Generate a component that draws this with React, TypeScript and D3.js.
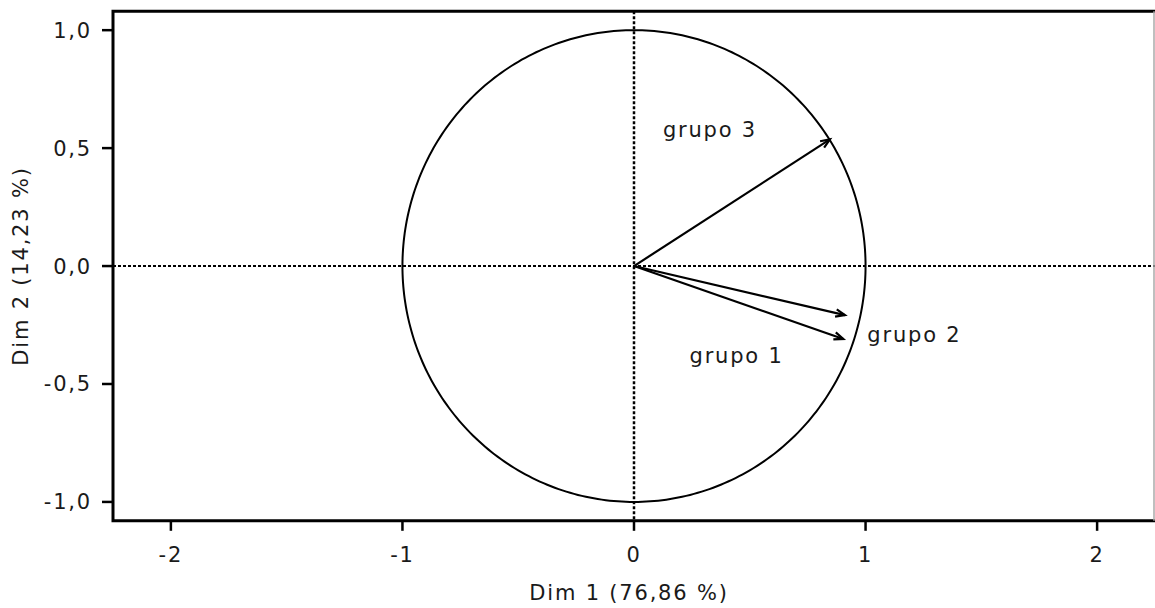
import * as React from "react";
import { useRef, useEffect } from "react";
import * as d3 from "d3";

// variable coordinates on the first two dimensions
const groups = ["grupo 1", "grupo 2", "grupo 3"];
const dim1 = [0.904, 0.911, 0.846];
const dim2 = [-0.309, -0.208, 0.537];
// label anchors (data units)
const labelX = [0.443, 1.211, 0.328];
const labelY = [-0.411, -0.322, 0.547];

const xTicks = [-2, -1, 0, 1, 2];
const yTicks = [1, 0.5, 0, -0.5, -1];
const xTitle = "Dim 1 (76,86 %)";
const yTitle = "Dim 2 (14,23 %)";

const W = 1155;
const H = 608;

export default function App() {
  const svgRef = useRef<SVGSVGElement>(null);

  useEffect(() => {
    const svg = d3.select(svgRef.current).attr("width", W).attr("height", H);
    svg.selectAll("*").remove();

    const left = 113;
    const right = 1155;
    const top = 11.3;
    const bottom = 520.8;

    const x = d3.scaleLinear().domain([-2.25, 2.25]).range([left, right]);
    const y = d3.scaleLinear().domain([-1.08, 1.08]).range([bottom, top]);

    const font = "'DejaVu Sans', Verdana, sans-serif";
    const txt = "#1a1a1a";
    const fs = 21;
    const ls = 1.8;

    svg.append("rect").attr("width", W).attr("height", H).attr("fill", "#fff");

    // dotted reference lines
    svg
      .append("line")
      .attr("x1", x(0))
      .attr("x2", x(0))
      .attr("y1", top)
      .attr("y2", bottom)
      .attr("stroke", "#000")
      .attr("stroke-width", 2.5)
      .attr("stroke-dasharray", "3,2");
    svg
      .append("line")
      .attr("x1", left)
      .attr("x2", right)
      .attr("y1", y(0))
      .attr("y2", y(0))
      .attr("stroke", "#000")
      .attr("stroke-width", 2)
      .attr("stroke-dasharray", "3,2");

    // unit circle
    const circ = d3.range(0, 361).map((a) => [
      x(Math.cos((a * Math.PI) / 180)),
      y(Math.sin((a * Math.PI) / 180)),
    ]) as [number, number][];
    svg
      .append("path")
      .attr("d", d3.line()(circ))
      .attr("fill", "none")
      .attr("stroke", "#000")
      .attr("stroke-width", 2);

    // arrows
    const head = 10;
    const ang = (22 * Math.PI) / 180;
    groups.forEach((g, i) => {
      const x0 = x(0);
      const y0 = y(0);
      const x1 = x(dim1[i]);
      const y1 = y(dim2[i]);
      svg
        .append("line")
        .attr("x1", x0)
        .attr("y1", y0)
        .attr("x2", x1)
        .attr("y2", y1)
        .attr("stroke", "#000")
        .attr("stroke-width", 2.2);
      const t = Math.atan2(y1 - y0, x1 - x0);
      const pts: [number, number][] = [
        [x1 - head * Math.cos(t - ang), y1 - head * Math.sin(t - ang)],
        [x1, y1],
        [x1 - head * Math.cos(t + ang), y1 - head * Math.sin(t + ang)],
      ];
      svg
        .append("path")
        .attr("d", d3.line()(pts))
        .attr("fill", "none")
        .attr("stroke", "#000")
        .attr("stroke-width", 2.2);

      svg
        .append("text")
        .attr("x", x(labelX[i]))
        .attr("y", y(labelY[i]))
        .attr("text-anchor", "middle")
        .attr("font-family", font)
        .attr("font-size", fs)
        .attr("letter-spacing", ls)
        .attr("fill", txt)
        .text(g);
    });

    // frame
    svg
      .append("path")
      .attr("d", `M${right},${top}H${left}V${bottom}H${right}`)
      .attr("fill", "none")
      .attr("stroke", "#000")
      .attr("stroke-width", 3);
    svg
      .append("line")
      .attr("x1", 1154)
      .attr("x2", 1154)
      .attr("y1", top)
      .attr("y2", bottom)
      .attr("stroke", "#aaa")
      .attr("stroke-width", 1.5);

    // x axis
    const gx = svg.append("g");
    xTicks.forEach((t) => {
      gx.append("line")
        .attr("x1", x(t))
        .attr("x2", x(t))
        .attr("y1", bottom)
        .attr("y2", bottom + 10)
        .attr("stroke", "#000")
        .attr("stroke-width", 2.5);
      gx.append("text")
        .attr("x", x(t))
        .attr("y", 562)
        .attr("text-anchor", "middle")
        .attr("font-family", font)
        .attr("font-size", fs)
        .attr("letter-spacing", ls)
        .attr("fill", txt)
        .text(d3.format("d")(t).replace("−", "-"));
    });

    // y axis
    const gy = svg.append("g");
    yTicks.forEach((t) => {
      gy.append("line")
        .attr("x1", left - 11)
        .attr("x2", left)
        .attr("y1", y(t))
        .attr("y2", y(t))
        .attr("stroke", "#000")
        .attr("stroke-width", 2.5);
      gy.append("text")
        .attr("x", 92)
        .attr("y", y(t) + 7.5)
        .attr("text-anchor", "end")
        .attr("font-family", font)
        .attr("font-size", fs)
        .attr("letter-spacing", ls)
        .attr("fill", txt)
        .text(d3.format(".1f")(t).replace("−", "-").replace(".", ","));
    });

    // titles
    svg
      .append("text")
      .attr("x", 629)
      .attr("y", 600)
      .attr("text-anchor", "middle")
      .attr("font-family", font)
      .attr("font-size", fs)
      .attr("letter-spacing", ls)
      .attr("fill", txt)
      .text(xTitle);
    svg
      .append("text")
      .attr("transform", `translate(28,266) rotate(-90)`)
      .attr("text-anchor", "middle")
      .attr("font-family", font)
      .attr("font-size", fs)
      .attr("letter-spacing", ls)
      .attr("fill", txt)
      .text(yTitle);
  }, []);

  return (
    <svg
      ref={svgRef}
      style={{ position: "absolute", left: 0, top: 0, display: "block" }}
    ></svg>
  );
}
